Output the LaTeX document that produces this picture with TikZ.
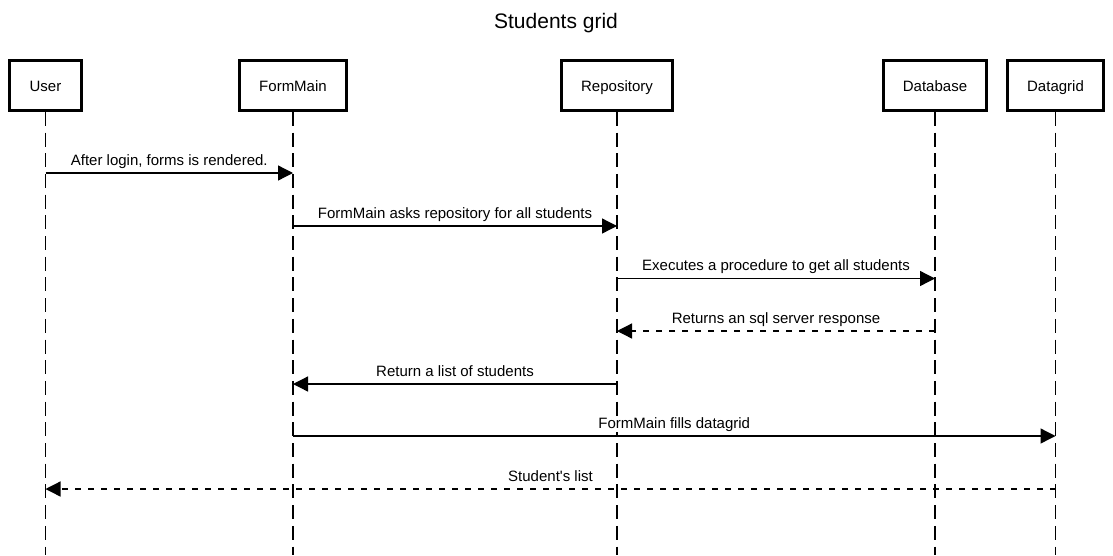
\documentclass[tikz,border=0pt]{standalone}
\usepackage{fontspec}
\setmainfont{Liberation Sans}
\newfontfamily\plainsans{Liberation Sans}
\usetikzlibrary{arrows.meta}
\begin{document}
\begin{tikzpicture}[x=1pt,y=-1pt,
  actor/.style={draw,line width=2.6pt,minimum height=50pt,inner sep=0pt,text height=12pt,text depth=0pt,font=\fontsize{15}{18}\selectfont},
  life/.style={line width=1.3pt,dash pattern=on 14pt off 6.7pt},
  msg/.style={line width=1.3pt,-{Triangle[length=15pt,width=15pt]}},
  ret/.style={msg,dash pattern=on 6pt off 7pt},
  lbl/.style={anchor=base,yshift=8pt,inner sep=1pt,fill=white,font=\plainsans\fontsize{15}{18}\selectfont}]
\useasboundingbox (0,0) rectangle (1113,555);
\node[font=\fontsize{21}{25}\selectfont,anchor=base,inner sep=0pt] (title) at (556,28.3) {Students grid};
\node[actor,minimum width=72pt] (user) at (45.5,85.5) {User};
\node[actor,minimum width=107pt] (form) at (293,85.5) {FormMain};
\node[actor,minimum width=111pt] (repo) at (617,85.5) {Repository};
\node[actor,minimum width=103pt] (db) at (935,85.5) {Database};
\node[actor,minimum width=96pt] (grid) at (1055.5,85.5) {Datagrid};
\foreach \n in {user,form,repo,db,grid}{
  \coordinate (\n End) at (\n.south |- 0,555);
  \draw[life] (\n.south) -- (\n End);
}
\coordinate (m1) at (0,173);
\coordinate (m2) at (0,226);
\coordinate (m3) at (0,278.5);
\coordinate (m4) at (0,331);
\coordinate (m5) at (0,384);
\coordinate (m6) at (0,436);
\coordinate (m7) at (0,489);
\draw[msg] (user.south |- m1) -- node[lbl] {After login, forms is rendered.} (form.south |- m1);
\draw[msg] (form.south |- m2) -- node[lbl] {FormMain asks repository for all students} (repo.south |- m2);
\draw[msg] (repo.south |- m3) -- node[lbl] {Executes a procedure to get all students} (db.south |- m3);
\draw[ret] (db.south |- m4) -- node[lbl] {Returns an sql server response} (repo.south |- m4);
\draw[msg] (repo.south |- m5) -- node[lbl] {Return a list of students} (form.south |- m5);
\draw[msg] (form.south |- m6) -- node[lbl] {FormMain fills datagrid} (grid.south |- m6);
\draw[ret] (grid.south |- m7) -- node[lbl] {Student's list} (user.south |- m7);
\end{tikzpicture}
\end{document}
